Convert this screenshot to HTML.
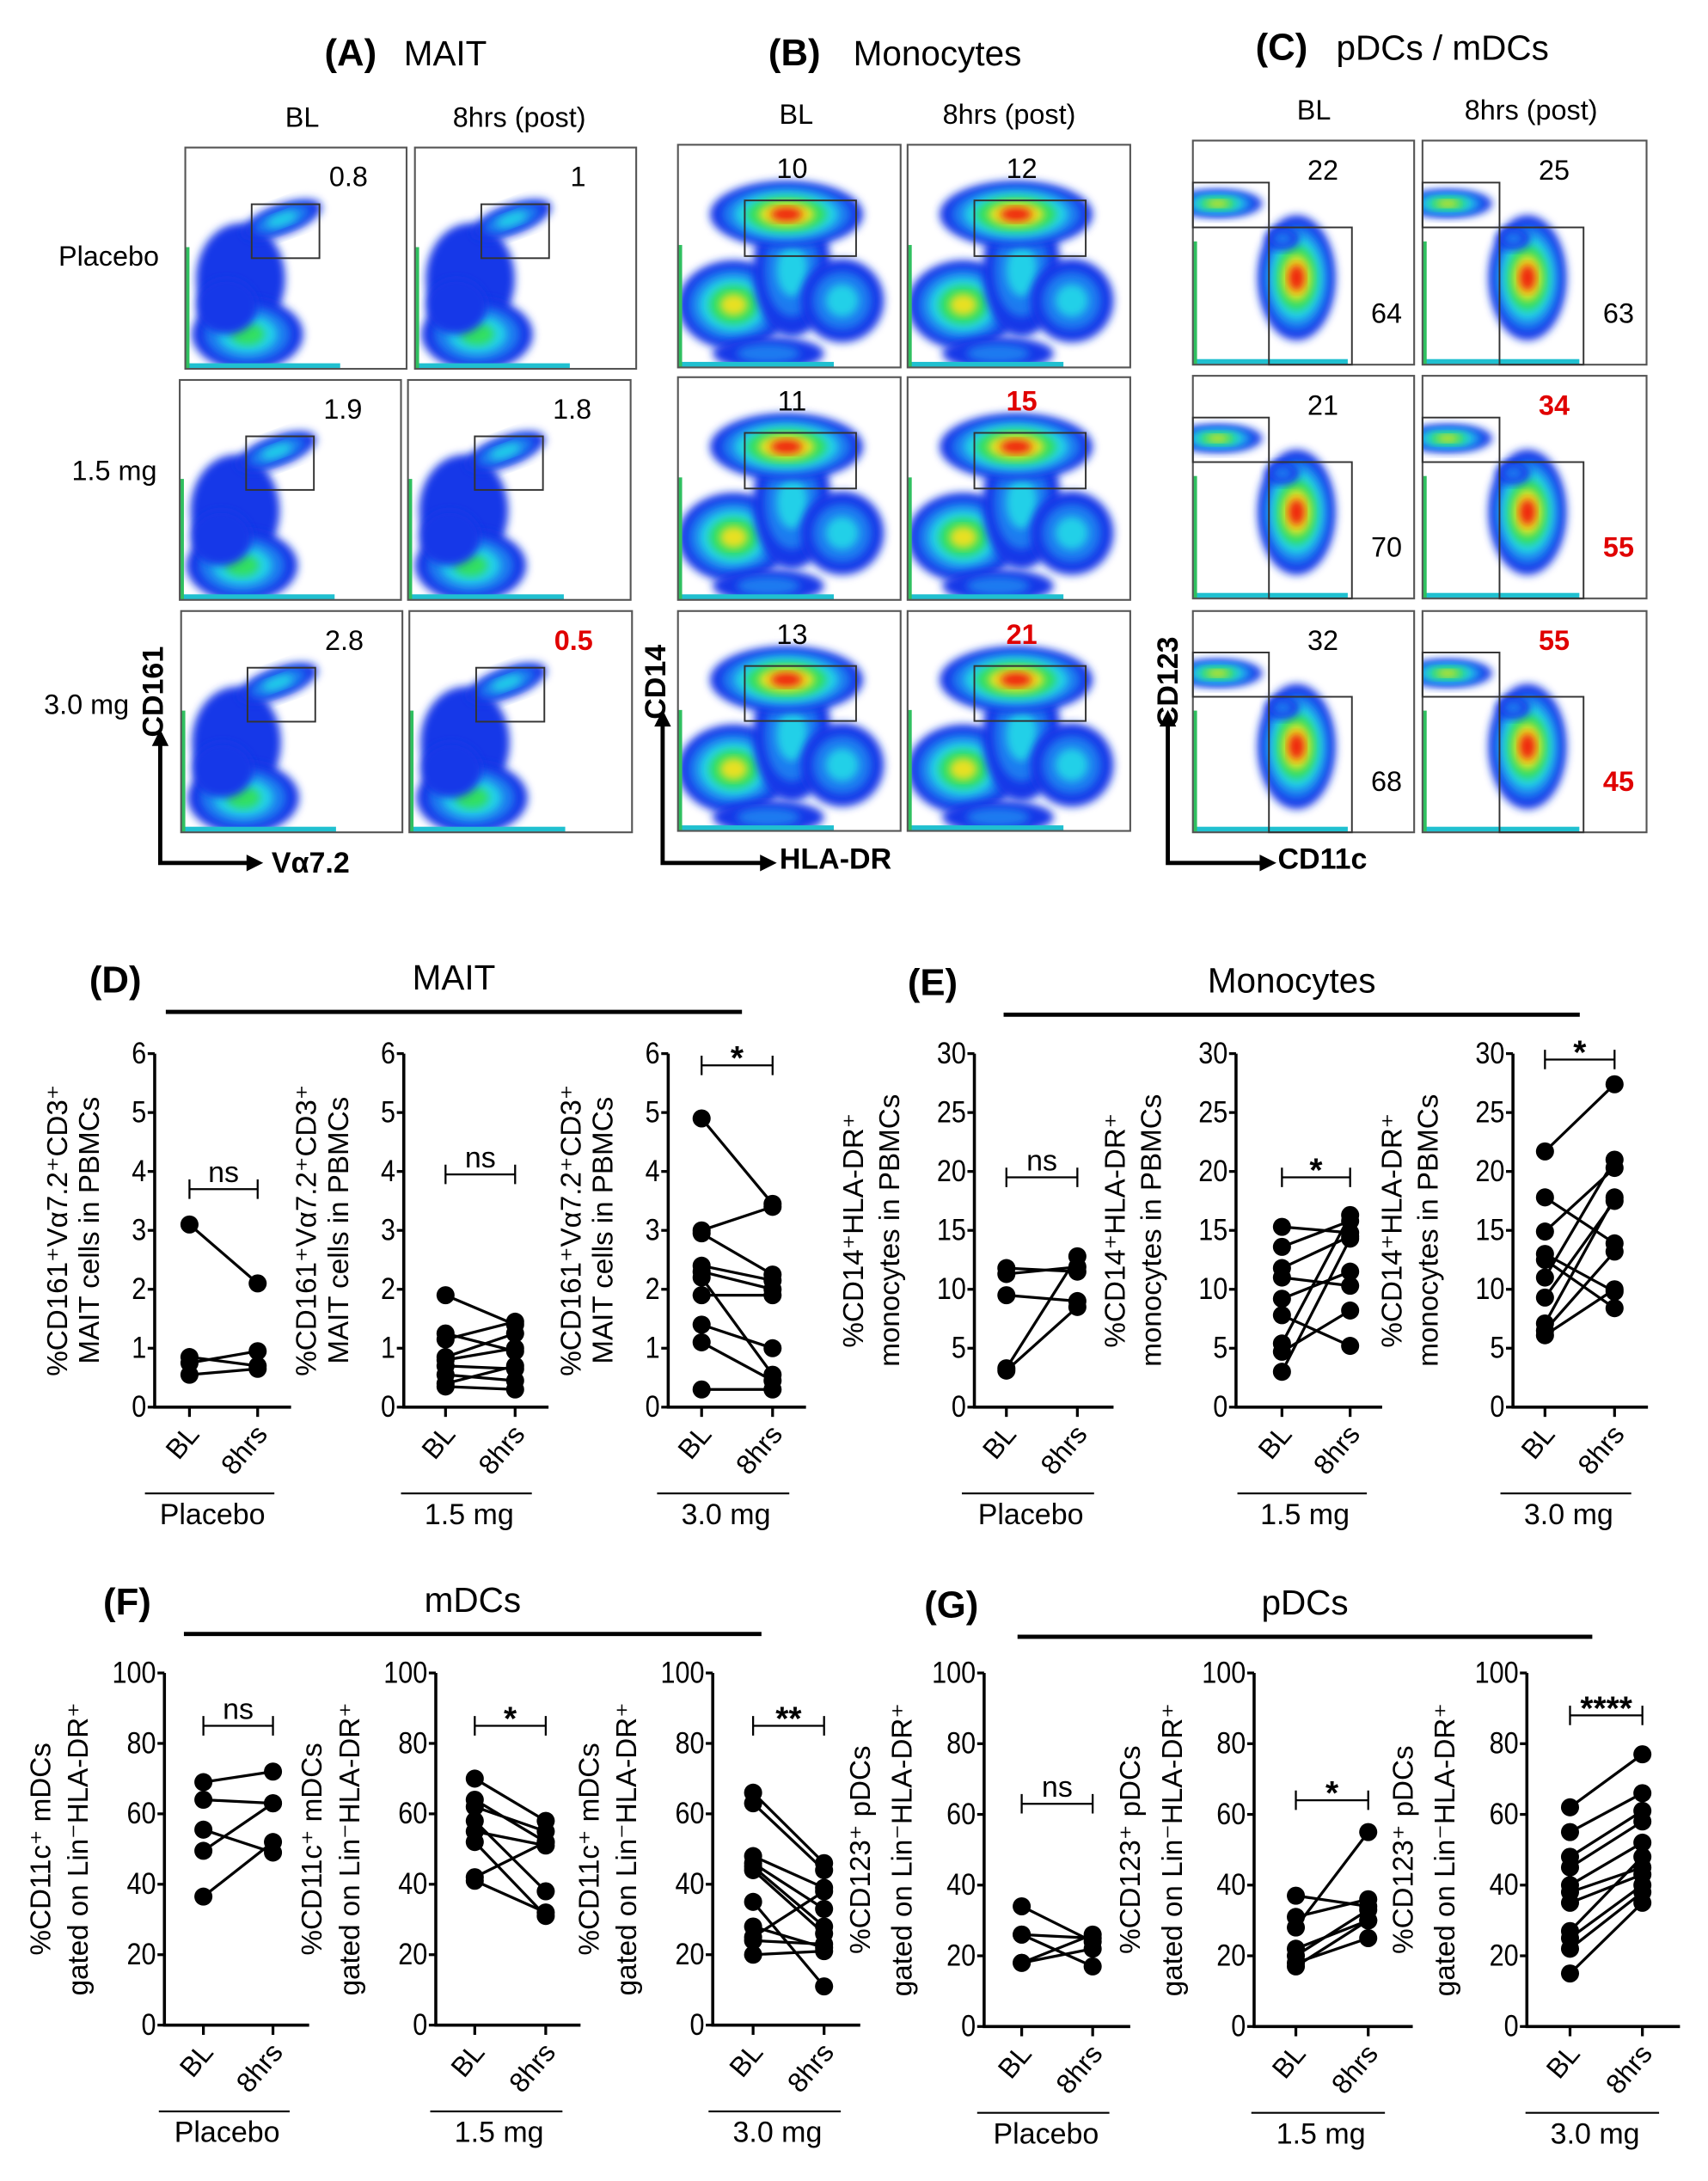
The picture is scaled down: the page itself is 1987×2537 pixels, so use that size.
<!DOCTYPE html>
<html><head><meta charset="utf-8">
<style>
html,body{margin:0;padding:0;background:#fff;}
svg{display:block;}
text{font-family:"Liberation Sans Narrow","Liberation Sans",sans-serif;}
.w{font-family:"Liberation Sans",sans-serif;}
</style></head>
<body>
<svg id="fig" width="1987" height="2537" viewBox="0 0 1227 1567" xmlns="http://www.w3.org/2000/svg">
<defs>
<filter id="bl" x="-20%" y="-20%" width="140%" height="140%"><feGaussianBlur stdDeviation="3"/></filter>
</defs>
<g id="flow"></g>
<g id="charts"></g>
</svg>
<script>
// ---------- chart data ----------
const groups = ["Placebo","1.5 mg","3.0 mg"];
const xCats = ["BL","8hrs"];
const D_ticks = [0,1,2,3,4,5,6];
const E_ticks = [0,5,10,15,20,25,30];
const F_ticks = [0,20,40,60,80,100];
const G_ticks = [0,20,40,60,80,100];
const D_pl_BL = [3.1,0.85,0.75,0.55];
const D_pl_8h = [2.1,0.7,0.95,0.65];
const D_15_BL = [1.9,1.25,1.15,0.85,0.8,0.7,0.55,0.4,0.35];
const D_15_8h = [1.4,0.95,1.45,1.25,1.0,0.65,0.45,0.7,0.3];
const D_30_BL = [4.9,3.0,2.95,2.4,2.3,2.2,1.9,1.4,1.1,0.3];
const D_30_8h = [3.45,3.4,2.25,2.15,2.0,0.55,1.9,1.0,0.45,0.3];
const E_pl_BL = [11.8,11.3,9.5,3.3,3.1];
const E_pl_8h = [11.5,11.9,9.0,12.8,8.5];
const E_15_BL = [15.3,13.6,11.8,11.0,9.2,7.8,5.4,4.7,3.0];
const E_15_8h = [14.8,15.8,14.5,10.3,11.5,5.2,16.3,8.2,14.3];
const E_30_BL = [21.7,17.8,14.9,13.0,12.5,11.0,9.3,7.1,6.5,6.1];
const E_30_8h = [27.4,13.9,20.3,9.8,8.4,21.0,17.5,17.8,13.2,10.0];
const F_pl_BL = [69,64,55.5,49.5,36.5];
const F_pl_8h = [72,63,49,63,52];
const F_15_BL = [70,64,62,58,55,52,42,41];
const F_15_8h = [58,52,55,38,51,31,52,32];
const F_30_BL = [66,63,48,46,45,44,35,28,25,24,20];
const F_30_8h = [46,44,39,33,28,26,11,22,38,23,21];
const G_pl_BL = [34,26,26,18,18];
const G_pl_8h = [24,25,17,26,22];
const G_15_BL = [37,31,28,22,20,18,17];
const G_15_8h = [34,36,55,30,33,25,30];
const G_30_BL = [62,55,48,45,40,38,35,27,25,22,15];
const G_30_8h = [77,66,61,58,52,45,43,48,40,38,35];
const D_sig = ["ns","ns","*"];   const D_sigY = [3.7,3.95,5.8];
const E_sig = ["ns","*","*"];    const E_sigY = [19.5,19.5,29.5];
const F_sig = ["ns","*","**"];   const F_sigY = [85,85,85];
const G_sig = ["ns","*","****"]; const G_sigY = [63,64,88];

const NS="http://www.w3.org/2000/svg";
function mk(tag,attrs,parent,txt){const e=document.createElementNS(NS,tag);for(const k in attrs)e.setAttribute(k,attrs[k]);if(txt!==undefined)e.textContent=txt;if(parent)parent.appendChild(e);return e;}

const charts=document.getElementById('charts');

function drawChart(o){
  const g=mk('g',{},charts);
  
  
  const ymax=o.ticks[o.ticks.length-1];
  const sy=v=>o.y0-(v/ymax)*(o.y0-o.yt);
  const sx=i=>i===0?o.bx:o.hx;
  const ya=mk('line',{x1:o.ax,y1:o.yt,x2:o.ax,y2:o.y0,stroke:'#000','stroke-width':2.2},g);
  
  
  const xa=mk('line',{x1:o.ax-1,y1:o.y0,x2:o.xe,y2:o.y0,stroke:'#000','stroke-width':2.2},g);
  
  
  o.ticks.forEach(t=>{
    const y=sy(t);
    mk('line',{x1:o.ax-5,y1:y,x2:o.ax,y2:y,stroke:'#000','stroke-width':2},g);
    const s=String(t);
    const tl=mk('text',{x:o.ax-6,y:y+7,'text-anchor':'end','font-size':22,textLength:s.length*10.5,lengthAdjust:'spacingAndGlyphs'},g,s);
    
    
  });
  xCats.forEach((c,i)=>{
    const x=sx(i);
    mk('line',{x1:x,y1:o.y0,x2:x,y2:o.y0+7,stroke:'#000','stroke-width':2},g);
    const tx=mk('text',{x:x+8,y:o.y0+20,'text-anchor':'end','font-size':20,transform:`rotate(-50 ${x+8} ${o.y0+20})`},g,c);
    
    
  });
  mk('line',{x1:o.bx-32,y1:o.y0+62,x2:o.hx+12,y2:o.y0+62,stroke:'#000','stroke-width':1.3},g);
  const gl=mk('text',{x:(o.bx+o.hx)/2-8,y:o.y0+84,'text-anchor':'middle','font-size':21},g,o.group);
  
  
  const cy=(o.yt+o.y0)/2;
  o.title.forEach((s,i)=>{
    const x=o.ax+o.tOff[i];
    const tt=mk('text',{x:x,y:cy,'text-anchor':'middle','font-size':20.5,transform:`rotate(-90 ${x} ${cy})`,class:'w'},g,s);
    
    
  });
  const syv=sy(o.sigY);
  const br=mk('path',{d:`M${o.bx} ${syv-7}V${syv+7}M${o.bx} ${syv}H${o.hx}M${o.hx} ${syv-7}V${syv+7}`,stroke:'#000','stroke-width':1.4,fill:'none'},g);
  
  
  const st=mk('text',{x:(o.bx+o.hx)/2,y:o.sig==='ns'?syv-5:syv+3,'text-anchor':'middle','font-size':o.sig==='ns'?21:24,'font-weight':o.sig==='ns'?'normal':'bold'},g,o.sig);
  
  
  o.a.forEach((v,i)=>{
    const ln=mk('line',{x1:sx(0),y1:sy(v),x2:sx(1),y2:sy(o.b[i]),stroke:'#000','stroke-width':2},g);
    
    
  });
  o.a.forEach((v,i)=>{
    const p1=mk('circle',{cx:sx(0),cy:sy(v),r:6.5,fill:'#000'},g);
    
    
    const p2=mk('circle',{cx:sx(1),cy:sy(o.b[i]),r:6.5,fill:'#000'},g);
    
    
  });
}

function header(lbl,name,x0,x1,ly,lx){
  const h=mk('g',{},charts);
  
  
  mk('text',{x:lx,y:ly-6,'font-size':27,'font-weight':'bold',class:'w'},h,lbl);
  mk('text',{x:(x0+x1)/2,y:ly-8,'text-anchor':'middle','font-size':25,class:'w'},h,name);
  mk('line',{x1:x0,y1:ly+8,x2:x1,y2:ly+8,stroke:'#000','stroke-width':3},h);
}

const Dt=["%CD161⁺Vα7.2⁺CD3⁺","MAIT cells in PBMCs"];
const Et=["%CD14⁺HLA-DR⁺","monocytes in PBMCs"];
const Ft=["%CD11c⁺ mDCs","gated on Lin⁻HLA-DR⁺"];
const Gt=["%CD123⁺ pDCs","gated on Lin⁻HLA-DR⁺"];

header("(D)","MAIT",119,533,719,64);
header("(E)","Monocytes",721,1135,721,652);
header("(F)","mDCs",132,547,1166,74);
header("(G)","pDCs",731,1144,1168,664);

const Dax=[[111,136,185,209],[290,320,370,394],[480,504,555,579]];
const Eax=[[700,723,774,800],[888,921,970,993],[1087,1110,1160,1184]];
const Fax=[[118,146,196,222],[313,341,392,417],[512,541,592,618]];
const Gax=[[707,734,785,812],[901,931,983,1015],[1097,1128,1180,1207]];
const Ddat=[[D_pl_BL,D_pl_8h],[D_15_BL,D_15_8h],[D_30_BL,D_30_8h]];
const Edat=[[E_pl_BL,E_pl_8h],[E_15_BL,E_15_8h],[E_30_BL,E_30_8h]];
const Fdat=[[F_pl_BL,F_pl_8h],[F_15_BL,F_15_8h],[F_30_BL,F_30_8h]];
const Gdat=[[G_pl_BL,G_pl_8h],[G_15_BL,G_15_8h],[G_30_BL,G_30_8h]];
for(let i=0;i<3;i++){
  drawChart({name:'mait-chart-'+i,ax:Dax[i][0],bx:Dax[i][1],hx:Dax[i][2],xe:Dax[i][3],yt:757,y0:1011,ticks:D_ticks,a:Ddat[i][0],b:Ddat[i][1],group:groups[i],title:Dt,tOff:[-63,-40],sig:D_sig[i],sigY:D_sigY[i]});
  drawChart({name:'monocyte-chart-'+i,ax:Eax[i][0],bx:Eax[i][1],hx:Eax[i][2],xe:Eax[i][3],yt:757,y0:1011,ticks:E_ticks,a:Edat[i][0],b:Edat[i][1],group:groups[i],title:Et,tOff:[-80,-54],sig:E_sig[i],sigY:E_sigY[i]});
  drawChart({name:'mdc-chart-'+i,ax:Fax[i][0],bx:Fax[i][1],hx:Fax[i][2],xe:Fax[i][3],yt:1202,y0:1455,ticks:F_ticks,a:Fdat[i][0],b:Fdat[i][1],group:groups[i],title:Ft,tOff:[-82,-55],sig:F_sig[i],sigY:F_sigY[i]});
  drawChart({name:'pdc-chart-'+i,ax:Gax[i][0],bx:Gax[i][1],hx:Gax[i][2],xe:Gax[i][3],yt:1202,y0:1456,ticks:G_ticks,a:Gdat[i][0],b:Gdat[i][1],group:groups[i],title:Gt,tOff:[-82,-52],sig:G_sig[i],sigY:G_sigY[i]});
}

// ---------- flow plots ----------
const flow=document.getElementById('flow');
let clipId=0;
const ramp=['#1838e8','#1c7cf0','#20d0e8','#30e060','#e8e020','#f02010'];
function blob(g,cx,cy,rx,ry,lvl,rot){
  for(let k=0;k<=lvl;k++){
    const f=1-k/(lvl+1.3);
    mk('ellipse',{cx:cx,cy:cy,rx:rx*f,ry:ry*f,fill:ramp[k],filter:'url(#bl)',transform:`rotate(${rot||0} ${cx} ${cy})`},g);
  }
}
function flowPlot(x,y,w,h,type,gates,labels){
  const g=mk('g',{},flow);
  
  
  const id='c'+(clipId++);
  const cp=mk('clipPath',{id:id},g);
  mk('rect',{x:x,y:y,width:w,height:h},cp);
  const inner=mk('g',{'clip-path':`url(#${id})`},g);
  const X=v=>x+v*w/160, Y=v=>y+v*h/160;
  if(type==='A'){
    blob(inner,X(40),Y(95),32,40,0,0);
    blob(inner,X(70),Y(52),30,11,2,-20);
    blob(inner,X(45),Y(135),40,26,3,0);
    blob(inner,X(30),Y(115),22,20,0,0);
  }else if(type==='B'){
    blob(inner,X(40),Y(115),40,32,4,0);
    blob(inner,X(82),Y(90),28,48,2,0);
    blob(inner,X(118),Y(112),30,30,2,0);
    blob(inner,X(78),Y(50),55,24,5,0);
    blob(inner,X(65),Y(150),40,12,1,0);
  }else{
    blob(inner,X(18),Y(45),32,10,4,0);
    blob(inner,X(75),Y(98),28,45,5,0);
    blob(inner,X(65),Y(70),12,8,1,0);
  }
  mk('rect',{x:x,y:y+h-4,width:w*0.7,height:4,fill:'#20c0d0'},inner);
  mk('rect',{x:x,y:y+h*0.45,width:3,height:h*0.55,fill:'#30c060'},inner);
  mk('rect',{x:x,y:y,width:w,height:h,fill:'none',stroke:'#555','stroke-width':1.3},g);
  gates.forEach(r=>mk('rect',{x:X(r[0]),y:Y(r[1]),width:(r[2]-r[0])*w/160,height:(r[3]-r[1])*h/160,fill:'none',stroke:'#333','stroke-width':1.2},g));
  labels.forEach(l=>{
    const t=mk('text',{x:X(l[0]),y:Y(l[1]),'text-anchor':'middle','font-size':20,class:'w',style:l[3]?'fill:#e00000;font-weight:bold':'fill:#000'},g,l[2]);
    
    
  });
}
const gA=[[48,41,97,80]], gB=[[48,40,128,80]], gC=[[0,30,55,62],[55,62,115,160]];
const Arows=[[106,159],[273,158],[439,159]];
const Acols=[[[133,159],[298,159]],[[129,159],[293,160]],[[130,159],[294,160]]];
const Avals=[["0.8","1"],["1.9","1.8"],["2.8","0.5"]];
const Bcols=[[487,160],[652,160]], Brows=[[104,160],[271,160],[439,158]];
const Bvals=[["10","12"],["11","15"],["13","21"]];
const Ccols=[[857,159],[1022,161]], Crows=[[101,161],[270,160],[439,159]];
const Cvals=[["22","25","64","63"],["21","34","70","55"],["32","55","68","45"]];
const red={"A":[[0,0],[0,0],[0,1]],"B":[[0,0],[0,1],[0,1]],"C":[[0,0],[0,1],[0,1]]};
for(let r=0;r<3;r++){
  for(let c=0;c<2;c++){
    flowPlot(Acols[r][c][0],Arows[r][0],Acols[r][c][1],Arows[r][1],'A',gA,[[118,28,Avals[r][c],red.A[r][c]]]);
    flowPlot(Bcols[c][0],Brows[r][0],Bcols[c][1],Brows[r][1],'B',gB,[[82,24,Bvals[r][c],red.B[r][c]]]);
    flowPlot(Ccols[c][0],Crows[r][0],Ccols[c][1],Crows[r][1],'C',gC,[[94,28,Cvals[r][c],red.C[r][c]],[140,130,Cvals[r][c+2],red.C[r][c]]]);
  }
}
function ftxt(x,y,s,size,bold,anchor,rot){
  const t=mk('text',{x:x,y:y,'font-size':size,'font-weight':bold?'bold':'normal','text-anchor':anchor||'middle',class:'w'},flow,s);
  if(rot)t.setAttribute('transform',`rotate(-90 ${x} ${y})`);
  
  
  return t;
}
ftxt(233,47,"(A)",27,true,'start');ftxt(290,47,"MAIT",25,false,'start');
ftxt(552,47,"(B)",27,true,'start');ftxt(613,47,"Monocytes",25,false,'start');
ftxt(902,43,"(C)",27,true,'start');ftxt(960,43,"pDCs / mDCs",25,false,'start');
ftxt(217,91,"BL",20);ftxt(373,91,"8hrs (post)",20);
ftxt(572,89,"BL",20);ftxt(725,89,"8hrs (post)",20);
ftxt(944,86,"BL",20);ftxt(1100,86,"8hrs (post)",20);
ftxt(78,191,"Placebo",20);ftxt(82,345,"1.5 mg",20);ftxt(62,513,"3.0 mg",20);
function axArrow(x,y,len,lenX){
  mk('path',{d:`M${x} ${y-len}V${y}H${x+lenX}`,stroke:'#000','stroke-width':3,fill:'none'},flow);
  mk('path',{d:`M${x-6} ${y-len+2}L${x} ${y-len-10}L${x+6} ${y-len+2}Z`,fill:'#000'},flow);
  mk('path',{d:`M${x+lenX-2} ${y-6}L${x+lenX+10} ${y}L${x+lenX-2} ${y+6}Z`,fill:'#000'},flow);
}
axArrow(115,620,86,64);ftxt(117,497,"CD161",21,true,'middle',true);ftxt(195,627,"Vα7.2",21,true,'start');
axArrow(476,620,100,72);ftxt(478,490,"CD14",21,true,'middle',true);ftxt(560,624,"HLA-DR",21,true,'start');
axArrow(839,620,100,68);ftxt(846,490,"CD123",21,true,'middle',true);ftxt(918,624,"CD11c",21,true,'start');
</script>
</body></html>
